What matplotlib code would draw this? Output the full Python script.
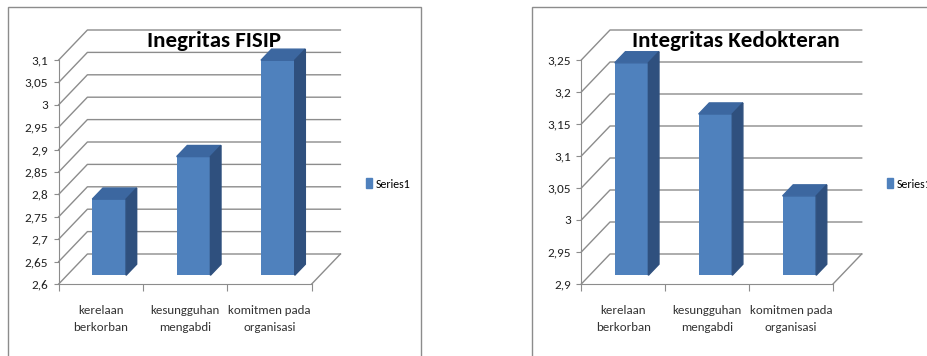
import matplotlib
matplotlib.use("Agg")
import matplotlib.pyplot as plt
from matplotlib import font_manager
from matplotlib.patches import Polygon, Rectangle, Patch
import numpy as np

# Calibri-like face if one is there, else DejaVu
_have = {f.name for f in font_manager.fontManager.ttflist}
_pick = [f for f in ['Carlito', 'Liberation Sans Narrow', 'Roboto Condensed',
                     'IBM Plex Sans Condensed'] if f in _have]
plt.rcParams['font.family'] = _pick[:1] + ['DejaVu Sans']

categories = ['kerelaan\nberkorban', 'kesungguhan\nmengabdi', 'komitmen pada\norganisasi']
fisip_values = [2.77, 2.865, 3.08]
kedokteran_values = [3.232, 3.152, 3.024]
fisip_ticks = [2.6, 2.65, 2.7, 2.75, 2.8, 2.85, 2.9, 2.95, 3.0, 3.05, 3.1]
kedokteran_ticks = [2.9, 2.95, 3.0, 3.05, 3.1, 3.15, 3.2, 3.25]
series_name = 'Series1'

W, H = 928, 356
FRONT = '#4f81bd'
TOP = '#3c67a0'
SIDE = '#2f507e'
GRID = '#8c8c8c'


def fmt(v):
    return ('%g' % v).replace('.', ',')


def chart(fig, x0, x1, ticks, values, title, title_x, legend_x):
    vmin, vmax = ticks[0], ticks[-1]
    y_bot, y_top = 284, 60
    ax = fig.add_axes([x0 / W, 1 - y_bot / H, (x1 - x0) / W, (y_bot - y_top) / H])
    ax.set_xlim(0, 3)
    ax.set_ylim(vmin, vmax)
    ax.patch.set_alpha(0)
    for s in ['top', 'right']:
        ax.spines[s].set_visible(False)
    for s in ['left', 'bottom']:
        ax.spines[s].set_color(GRID)
    # depth of the 3d box in data units
    dx = 28.7 / ((x1 - x0) / 3)
    dy = 30 / ((y_bot - y_top) / (vmax - vmin))

    # walls
    for v in ticks:
        ax.plot([0, dx, 3 + dx], [v, v + dy, v + dy], color=GRID, lw=1, clip_on=False, zorder=1)
    ax.plot([3, 3 + dx], [vmin, vmin + dy], color=GRID, lw=1, clip_on=False, zorder=1)

    # bars
    f0, f1 = 0.29, 0.66
    bw = 0.4
    xs = np.arange(3) + 0.5
    ax.bar(xs + f0 * dx, np.array(values) - vmin, bottom=vmin + f0 * dy, width=bw,
           color=FRONT, clip_on=False, zorder=3)
    ddx, ddy = (f1 - f0) * dx, (f1 - f0) * dy
    for x, v in zip(xs, values):
        xl = x - bw / 2 + f0 * dx
        xr = x + bw / 2 + f0 * dx
        top = v + f0 * dy
        base = vmin + f0 * dy
        ax.add_patch(Polygon([(xl, top), (xr, top), (xr + ddx, top + ddy), (xl + ddx, top + ddy)],
                             closed=True, color=TOP, clip_on=False, zorder=3))
        ax.add_patch(Polygon([(xr, base), (xr, top), (xr + ddx, top + ddy), (xr + ddx, base + ddy)],
                             closed=True, color=SIDE, clip_on=False, zorder=3))

    ax.set_yticks(ticks)
    ax.set_yticklabels([fmt(t) for t in ticks])
    ax.tick_params(axis='y', length=3.5, color=GRID, pad=4, labelsize=9.5, labelcolor='#222222')
    ax.set_xticks([0, 1, 2, 3])
    ax.set_xticklabels([])
    ax.tick_params(axis='x', which='major', length=5, color=GRID)
    ax.set_xticks(xs, minor=True)
    ax.set_xticklabels(categories, minor=True, fontsize=9.3, color='#333333', linespacing=1.65)
    ax.tick_params(axis='x', which='minor', length=0, pad=15)

    fig.text(title_x / W, 1 - 41 / H, title, ha='center', va='center', fontsize=16.5,
             fontweight='bold', color='black')
    ax.legend(handles=[Patch(color=FRONT, label=series_name)], loc='center left',
              bbox_to_anchor=(legend_x / W, 1 - 184 / H), bbox_transform=fig.transFigure,
              frameon=False, handlelength=0.5, handleheight=0.9, handletextpad=0.3,
              borderpad=0, borderaxespad=0, fontsize=8.6)
    return ax


fig = plt.figure(figsize=(W / 100, H / 100), dpi=100)
fig.patch.set_facecolor('white')

# chart frames
fig.add_artist(Rectangle((8 / W, -0.2), (421 - 8) / W, 1.2 - 7 / H, transform=fig.transFigure,
                         fill=False, edgecolor=GRID, lw=1))
fig.add_artist(Rectangle((532 / W, -0.2), 0.5, 1.2 - 7 / H, transform=fig.transFigure,
                         fill=False, edgecolor=GRID, lw=1))

chart(fig, 58.7, 311.7, fisip_ticks, fisip_values, 'Inegritas FISIP', 214, 366)
chart(fig, 581.3, 833, kedokteran_ticks, kedokteran_values, 'Integritas Kedokteran', 736, 887)

fig.savefig('out.png', dpi=100)
